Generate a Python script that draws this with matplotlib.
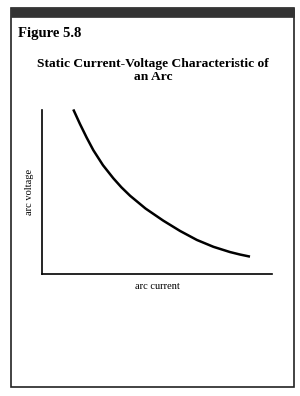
import matplotlib.pyplot as plt
from matplotlib.patches import Rectangle

# curve (arbitrary units, 0-100 on both axes)
current = [13.6, 16.5, 19.4, 22.3, 26.5, 31.0, 34.5, 38.3, 45.0, 52.7, 60.0, 67.3, 74.5, 81.7, 86.0, 90.4]
voltage = [100.4, 91.5, 83.2, 75.5, 66.3, 58.3, 52.8, 47.6, 39.8, 32.4, 26.1, 20.6, 16.4, 13.2, 11.7, 10.4]

fig_label = 'Figure 5.8'
title = 'Static Current-Voltage Characteristic of\nan Arc'
xlab = 'arc current'
ylab = 'arc voltage'


def main():
    plt.rcParams['font.family'] = ['Liberation Serif', 'DejaVu Serif']
    fig = plt.figure(figsize=(3.0, 3.96), dpi=100)

    # outer frame and dark band on top
    fig.patches.append(Rectangle((0.037, 0.023), 0.943, 0.957, transform=fig.transFigure,
                                 fill=False, edgecolor='#222222', linewidth=1.2))
    fig.patches.append(Rectangle((0.037, 0.957), 0.943, 0.023, transform=fig.transFigure,
                                 facecolor='#333333', edgecolor='#333333', linewidth=0.5))

    fig.text(0.06, 0.915, fig_label, fontsize=10.5, fontweight='bold', va='center', ha='left')
    fig.text(0.51, 0.822, title, fontsize=9.7, fontweight='bold', va='center', ha='center',
             linespacing=1.2)

    ax = fig.add_axes([0.14, 0.309, 0.767, 0.413])
    ax.plot(current, voltage, color='black', linewidth=1.8, clip_on=False,
            solid_capstyle='butt', solid_joinstyle='round')
    ax.set_xlim(0, 100)
    ax.set_ylim(0, 100)
    ax.spines['top'].set_visible(False)
    ax.spines['right'].set_visible(False)
    ax.spines['left'].set_linewidth(1.2)
    ax.spines['bottom'].set_linewidth(1.2)
    ax.set_xticks([])
    ax.set_yticks([])
    ax.set_xlabel(xlab, fontsize=7.5, labelpad=6)
    ax.set_ylabel(ylab, fontsize=7.5, labelpad=6)

    plt.savefig('out.png', dpi=100)


if __name__ == '__main__':
    main()
